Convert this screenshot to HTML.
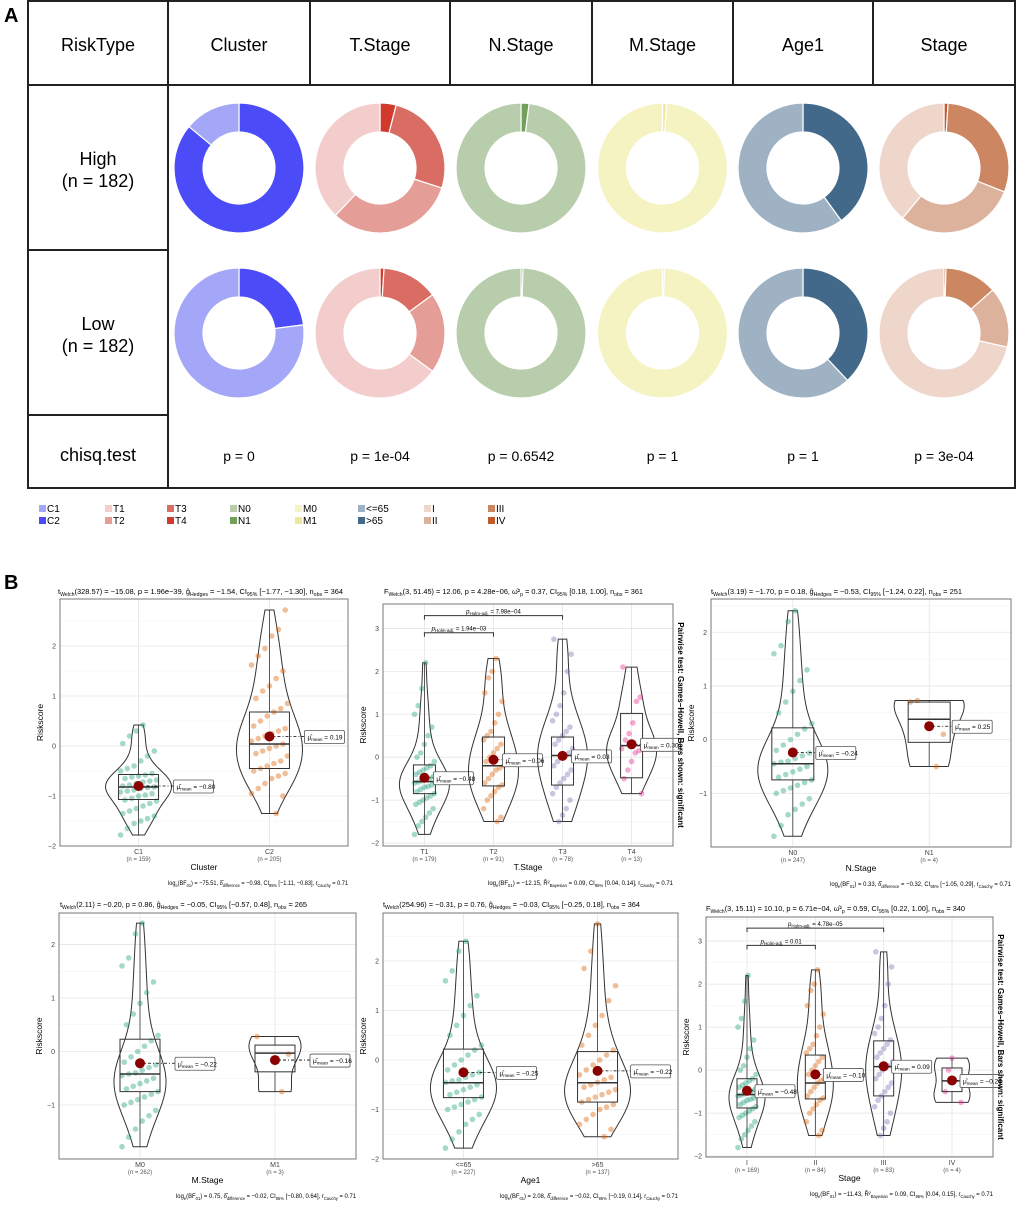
<!DOCTYPE html>
<html><head><meta charset="utf-8">
<style>
body{margin:0;background:#fff;font-family:"Liberation Sans",Arial,sans-serif;}
svg{display:block}
</style></head>
<body>
<svg id="fig" width="1020" height="1205" viewBox="0 0 1020 1205" xmlns="http://www.w3.org/2000/svg" font-family="Liberation Sans, Arial, sans-serif">
<text x="4" y="22" font-size="20" font-weight="bold">A</text>
<text x="4" y="589" font-size="20" font-weight="bold">B</text>
<g id="tbl"></g>
<g id="donuts"></g>
<g id="legend"></g>
<g id="violins"></g>
</svg>
<script>
const NS="http://www.w3.org/2000/svg";
function mk(tag,attrs,parent,txt){const e=document.createElementNS(NS,tag);for(const k in attrs)e.setAttribute(k,attrs[k]);if(txt!==undefined)e.textContent=txt;parent.appendChild(e);return e;}

// ===== Part A data =====
const columns=["Cluster","T.Stage","N.Stage","M.Stage","Age1","Stage"];
const pvalues=["p = 0","p = 1e-04","p = 0.6542","p = 1","p = 1","p = 3e-04"];
// slices listed clockwise from 12 o'clock
const sliceLevels=[["C2","C1"],["T4","T3","T2","T1"],["N1","N0"],["M1","M0"],[">65","<=65"],["IV","III","II","I"]];
const highFractions=[[0.86,0.14],[0.04,0.26,0.32,0.38],[0.02,0.98],[0.01,0.99],[0.40,0.60],[0.01,0.30,0.30,0.39]];
const lowFractions=[[0.23,0.77],[0.01,0.14,0.20,0.65],[0.005,0.995],[0.005,0.995],[0.38,0.62],[0.005,0.13,0.15,0.715]];
const levelColors={"C1":"#a4a6f7","C2":"#4b4cf7","T1":"#f2cdcc","T2":"#e59d97","T3":"#da6d63","T4":"#cf3a2d","N0":"#b7cdab","N1":"#71a05a","M0":"#f6f3c3","M1":"#efe79c","<=65":"#9eb2c4","\u003e65":"#42688a","I":"#efd6cb","II":"#ddb29d","III":"#cc8662","IV":"#c25b2c"};
const legendCol=[["C1","C2"],["T1","T2"],["T3","T4"],["N0","N1"],["M0","M1"],["<=65",">65"],["I","II"],["III","IV"]];

const tbl=document.getElementById('tbl');
const colX=[168,310,450,592,733,873,1015];
mk('rect',{x:28,y:1,width:987,height:487,fill:'none',stroke:'#222','stroke-width':2},tbl);
mk('line',{x1:28,y1:85,x2:1015,y2:85,stroke:'#222','stroke-width':2},tbl);
mk('line',{x1:168,y1:1,x2:168,y2:488,stroke:'#222','stroke-width':2},tbl);
for(let i=1;i<6;i++){mk('line',{x1:colX[i],y1:1,x2:colX[i],y2:85,stroke:'#222','stroke-width':2},tbl);}
mk('line',{x1:28,y1:250,x2:168,y2:250,stroke:'#222','stroke-width':2},tbl);
mk('line',{x1:28,y1:415,x2:168,y2:415,stroke:'#222','stroke-width':2},tbl);
let t=mk('text',{x:98,y:51,'font-size':18,'text-anchor':'middle'},tbl,'RiskType');
columns.forEach((c,i)=>{const cx=(colX[i]+colX[i+1])/2;
 const h=mk('text',{x:cx,y:51,'font-size':18,'text-anchor':'middle'},tbl,c);
 
 const p=mk('text',{x:cx,y:461,'font-size':14,'text-anchor':'middle'},tbl,pvalues[i]);
 });
[['High',165],['Low',330]].forEach(([n,y])=>{
 const a=mk('text',{x:98,y:y,'font-size':18,'text-anchor':'middle'},tbl,n);
 const b=mk('text',{x:98,y:y+22,'font-size':18,'text-anchor':'middle'},tbl,'(n = 182)');});
t=mk('text',{x:98,y:461,'font-size':18,'text-anchor':'middle'},tbl,'chisq.test');

const don=document.getElementById('donuts');
function arcPath(cx,cy,R,r,a0,a1){
 const large=(a1-a0)>Math.PI?1:0;
 const p=(rad,a)=>[cx+rad*Math.sin(a),cy-rad*Math.cos(a)];
 const [x0,y0]=p(R,a0),[x1,y1]=p(R,a1),[x2,y2]=p(r,a1),[x3,y3]=p(r,a0);
 return `M${x0},${y0}A${R},${R} 0 ${large} 1 ${x1},${y1}L${x2},${y2}A${r},${r} 0 ${large} 0 ${x3},${y3}Z`;}
[[highFractions,168],[lowFractions,333]].forEach(([fr,cy])=>{
 columns.forEach((c,i)=>{const cx=(colX[i]+colX[i+1])/2;let a=0;
  fr[i].forEach((v,j)=>{const a1=a+v*2*Math.PI;
   const s=mk('path',{d:arcPath(cx,cy,65,36,a,a1),fill:levelColors[sliceLevels[i][j]],stroke:'#fff','stroke-width':1.2},don);
   a=a1;});});});

const leg=document.getElementById('legend');
const legX=[39,105,167,230,295,358,424,488];
legendCol.forEach((col,i)=>col.forEach((lv,j)=>{const y=505+j*12;
 const r=mk('rect',{x:legX[i],y:y,width:7,height:7,fill:levelColors[lv]},leg);
 const tx=mk('text',{x:legX[i]+8,y:y+7,'font-size':10},leg,lv);}));

// ===== Part B data =====
const p1Cats=["C1","C2"];const p1N=[159,205];
const p1Pts=[[-1.78,-1.65,-1.55,-1.5,-1.45,-1.4,-1.35,-1.3,-1.25,-1.2,-1.15,-1.1,-1.08,-1.05,-1.0,-0.98,-0.95,-0.92,-0.9,-0.88,-0.85,-0.83,-0.82,-0.8,-0.78,-0.75,-0.72,-0.7,-0.68,-0.65,-0.62,-0.6,-0.58,-0.55,-0.5,-0.45,-0.4,-0.3,-0.2,-0.1,0.05,0.2,0.3,0.42],
 [-1.35,-1.0,-0.95,-0.85,-0.75,-0.65,-0.6,-0.55,-0.5,-0.45,-0.4,-0.35,-0.3,-0.2,-0.15,-0.1,-0.05,0.0,0.04,0.1,0.15,0.2,0.25,0.3,0.35,0.4,0.5,0.6,0.68,0.75,0.85,0.95,1.1,1.2,1.35,1.5,1.62,1.8,1.95,2.2,2.33,2.72]];
const p1Q1=[-1.07,-0.45],p1Med=[-0.82,0.04],p1Q3=[-0.57,0.68],p1Mean=[-0.80,0.19];

const p2Cats=["T1","T2","T3","T4"];const p2N=[179,91,78,13];
const p2Pts=[[-1.8,-1.6,-1.5,-1.4,-1.3,-1.2,-1.1,-1.05,-1.0,-0.95,-0.9,-0.85,-0.8,-0.75,-0.7,-0.68,-0.65,-0.6,-0.58,-0.55,-0.52,-0.5,-0.45,-0.4,-0.35,-0.3,-0.25,-0.2,-0.1,0.0,0.1,0.3,0.5,0.7,1.0,1.2,1.6,2.2],
 [-1.5,-1.4,-1.2,-1.0,-0.9,-0.8,-0.7,-0.65,-0.6,-0.5,-0.4,-0.3,-0.25,-0.2,-0.1,0.0,0.1,0.2,0.3,0.4,0.5,0.6,0.8,1.0,1.3,1.5,1.85,2.0,2.3],
 [-1.5,-1.35,-1.2,-1.0,-0.85,-0.7,-0.6,-0.5,-0.4,-0.3,-0.2,-0.1,0.0,0.05,0.1,0.2,0.3,0.4,0.5,0.6,0.7,0.85,1.0,1.2,1.5,2.0,2.4,2.75],
 [-0.85,-0.5,-0.3,-0.1,0.1,0.15,0.2,0.4,0.55,0.8,1.3,1.4,2.1]];
const p2Q1=[-0.85,-0.67,-0.65,-0.48],p2Med=[-0.57,-0.2,0.04,0.27],p2Q3=[-0.18,0.47,0.47,1.02],p2Mean=[-0.48,-0.06,0.03,0.30];

const p3Cats=["N0","N1"];const p3N=[247,4];
const p3Pts=[[-1.8,-1.6,-1.4,-1.3,-1.2,-1.1,-1.0,-0.95,-0.9,-0.85,-0.8,-0.75,-0.7,-0.65,-0.6,-0.55,-0.5,-0.45,-0.42,-0.4,-0.35,-0.3,-0.25,-0.2,-0.1,0.0,0.1,0.2,0.3,0.5,0.7,0.9,1.1,1.3,1.6,1.75,2.2,2.4],
 [-0.5,0.1,0.7,0.73]];
const p3Q1=[-0.75,-0.05],p3Med=[-0.45,0.38],p3Q3=[0.22,0.7],p3Mean=[-0.24,0.25];

const p4Cats=["M0","M1"];const p4N=[262,3];
const p4Pts=[[-1.78,-1.6,-1.45,-1.3,-1.2,-1.1,-1.0,-0.95,-0.9,-0.85,-0.8,-0.75,-0.7,-0.65,-0.6,-0.55,-0.5,-0.45,-0.42,-0.4,-0.35,-0.3,-0.25,-0.2,-0.1,0.0,0.1,0.2,0.3,0.5,0.7,0.9,1.1,1.3,1.6,1.75,2.2,2.4],
 [-0.75,-0.05,0.28]];
const p4Q1=[-0.75,-0.38],p4Med=[-0.42,-0.03],p4Q3=[0.23,0.12],p4Mean=[-0.22,-0.16];

const p5Cats=["<=65",">65"];const p5N=[227,137];
const p5Pts=[[-1.78,-1.6,-1.45,-1.3,-1.2,-1.1,-1.0,-0.95,-0.9,-0.85,-0.8,-0.75,-0.7,-0.65,-0.6,-0.55,-0.5,-0.45,-0.42,-0.4,-0.35,-0.3,-0.25,-0.2,-0.1,0.0,0.1,0.2,0.3,0.5,0.7,0.9,1.1,1.3,1.6,1.8,2.2,2.4],
 [-1.55,-1.4,-1.3,-1.2,-1.1,-1.0,-0.95,-0.9,-0.85,-0.8,-0.75,-0.7,-0.65,-0.6,-0.55,-0.5,-0.45,-0.4,-0.35,-0.3,-0.2,-0.1,0.0,0.1,0.2,0.3,0.5,0.7,0.9,1.2,1.5,1.85,2.2,2.75]];
const p5Q1=[-0.76,-0.85],p5Med=[-0.46,-0.46],p5Q3=[0.22,0.17],p5Mean=[-0.25,-0.22];

const p6Cats=["I","II","III","IV"];const p6N=[169,84,83,4];
const p6Pts=[[-1.8,-1.6,-1.5,-1.4,-1.3,-1.2,-1.1,-1.05,-1.0,-0.95,-0.9,-0.85,-0.8,-0.75,-0.7,-0.68,-0.65,-0.6,-0.58,-0.55,-0.52,-0.5,-0.45,-0.4,-0.35,-0.3,-0.25,-0.2,-0.1,0.0,0.1,0.3,0.5,0.7,1.0,1.2,1.6,2.2],
 [-1.52,-1.4,-1.2,-1.0,-0.9,-0.8,-0.7,-0.65,-0.6,-0.5,-0.4,-0.3,-0.25,-0.2,-0.1,0.0,0.1,0.2,0.3,0.4,0.5,0.6,0.8,1.0,1.3,1.5,1.85,2.0,2.33],
 [-1.52,-1.35,-1.2,-1.0,-0.85,-0.7,-0.6,-0.5,-0.4,-0.3,-0.2,-0.1,0.0,0.05,0.1,0.2,0.3,0.4,0.5,0.6,0.7,0.85,1.0,1.2,1.5,2.0,2.4,2.75],
 [-0.75,-0.5,0.0,0.28]];
const p6Q1=[-0.88,-0.67,-0.6,-0.5],p6Med=[-0.57,-0.3,0.08,-0.25],p6Q3=[-0.2,0.35,0.68,0.05],p6Mean=[-0.48,-0.10,0.09,-0.24];

const ptColors=["#1b9e77","#d95f02","#7570b3","#e7298a"];

const panels=[
 {id:'cluster',x0:60,x1:348,y0:599,y1:846,lo:-2.0,hi:2.94,ticks:[-2,-1,0,1,2],cats:p1Cats,n:p1N,pts:p1Pts,q1:p1Q1,med:p1Med,q3:p1Q3,mean:p1Mean,vw:33,bw:20,lo2:35,xt:'Cluster',row:0,
  title:'t<sub>Welch</sub>(328.57) = −15.08, p = 1.96e−39, ĝ<sub>Hedges</sub> = −1.54, CI<sub>95%</sub> [−1.77, −1.30], n<sub>obs</sub> = 364',tx0:58,tx1:343,
  cap:'log<sub>e</sub>(BF<sub>01</sub>) = −75.51, δ̂<sub>difference</sub> = −0.98, CI<sub>95%</sub> [−1.11, −0.83], r<sub>Cauchy</sub> = 0.71',cx0:168,cx1:348},
 {id:'tstage',x0:383,x1:673,y0:604,y1:846,lo:-2.07,hi:3.57,ticks:[-2,-1,0,1,2,3],cats:p2Cats,n:p2N,pts:p2Pts,q1:p2Q1,med:p2Med,q3:p2Q3,mean:p2Mean,vw:25,bw:11,lo2:9,xt:'T.Stage',row:0,side:true,
  brackets:[[0,1,2.9,'1.94e−03'],[0,2,3.3,'7.98e−04']],
  title:'F<sub>Welch</sub>(3, 51.45) = 12.06, p = 4.28e−06, ω̂²<sub>p</sub> = 0.37, CI<sub>95%</sub> [0.18, 1.00], n<sub>obs</sub> = 361',tx0:384,tx1:643,
  cap:'log<sub>e</sub>(BF<sub>01</sub>) = −12.15, R̂²<sub>Bayesian</sub> = 0.09, CI<sub>95%</sub> [0.04, 0.14], r<sub>Cauchy</sub> = 0.71',cx0:488,cx1:673},
 {id:'nstage',x0:711,x1:1011,y0:599,y1:847,lo:-2.0,hi:2.62,ticks:[-1,0,1,2],cats:p3Cats,n:p3N,pts:p3Pts,q1:p3Q1,med:p3Med,q3:p3Q3,mean:p3Mean,vw:35,bw:21,lo2:23,xt:'N.Stage',row:0,
  title:'t<sub>Welch</sub>(3.19) = −1.70, p = 0.18, ĝ<sub>Hedges</sub> = −0.53, CI<sub>95%</sub> [−1.24, 0.22], n<sub>obs</sub> = 251',tx0:711,tx1:962,
  cap:'log<sub>e</sub>(BF<sub>01</sub>) = 0.33, δ̂<sub>difference</sub> = −0.32, CI<sub>95%</sub> [−1.05, 0.29], r<sub>Cauchy</sub> = 0.71',cx0:830,cx1:1011},
 {id:'mstage',x0:59,x1:356,y0:913,y1:1159,lo:-2.01,hi:2.59,ticks:[-1,0,1,2],cats:p4Cats,n:p4N,pts:p4Pts,q1:p4Q1,med:p4Med,q3:p4Q3,mean:p4Mean,vw:26,bw:20,lo2:35,xt:'M.Stage',row:1,
  title:'t<sub>Welch</sub>(2.11) = −0.20, p = 0.86, ĝ<sub>Hedges</sub> = −0.05, CI<sub>95%</sub> [−0.57, 0.48], n<sub>obs</sub> = 265',tx0:60,tx1:307,
  cap:'log<sub>e</sub>(BF<sub>01</sub>) = 0.75, δ̂<sub>difference</sub> = −0.02, CI<sub>95%</sub> [−0.80, 0.64], r<sub>Cauchy</sub> = 0.71',cx0:176,cx1:356},
 {id:'age1',x0:383,x1:678,y0:913,y1:1159,lo:-2.0,hi:2.97,ticks:[-2,-1,0,1,2],cats:p5Cats,n:p5N,pts:p5Pts,q1:p5Q1,med:p5Med,q3:p5Q3,mean:p5Mean,vw:33,bw:20,lo2:33,xt:'Age1',row:1,
  title:'t<sub>Welch</sub>(254.96) = −0.31, p = 0.76, ĝ<sub>Hedges</sub> = −0.03, CI<sub>95%</sub> [−0.25, 0.18], n<sub>obs</sub> = 364',tx0:383,tx1:640,
  cap:'log<sub>e</sub>(BF<sub>01</sub>) = 2.08, δ̂<sub>difference</sub> = −0.02, CI<sub>95%</sub> [−0.19, 0.14], r<sub>Cauchy</sub> = 0.71',cx0:500,cx1:678},
 {id:'stage',x0:706,x1:993,y0:917,y1:1157,lo:-2.02,hi:3.56,ticks:[-2,-1,0,1,2,3],cats:p6Cats,n:p6N,pts:p6Pts,q1:p6Q1,med:p6Med,q3:p6Q3,mean:p6Mean,vw:18,bw:10,lo2:8,xt:'Stage',row:1,side:true,
  brackets:[[0,1,2.9,'0.01'],[0,2,3.3,'4.78e−05']],
  title:'F<sub>Welch</sub>(3, 15.11) = 10.10, p = 6.71e−04, ω̂²<sub>p</sub> = 0.59, CI<sub>95%</sub> [0.22, 1.00], n<sub>obs</sub> = 340',tx0:706,tx1:965,
  cap:'log<sub>e</sub>(BF<sub>01</sub>) = −11.43, R̂²<sub>Bayesian</sub> = 0.09, CI<sub>95%</sub> [0.04, 0.15], r<sub>Cauchy</sub> = 0.71',cx0:810,cx1:993}
];

function richText(parent,x,y,x1,str,size){
 const te=mk('text',{x:x,y:y,'font-size':size,textLength:x1-x,lengthAdjust:'spacingAndGlyphs'},parent);
 str.split(/(<sub>.*?<\/sub>)/).forEach(seg=>{if(!seg)return;
  const m=seg.match(/<sub>(.*?)<\/sub>/);
  if(m){mk('tspan',{'font-size':size*0.7,dy:2},te,m[1]);mk('tspan',{dy:-2},te,'\u200b');}
  else mk('tspan',{},te,seg);});
 return te;}

const V=document.getElementById('violins');
panels.forEach(P=>{
 const g=mk('g',{},V);
 const k=P.cats.length;
 const xs=i=>P.x0+(i+0.6)/(k+0.2)*(P.x1-P.x0);
 const ys=v=>P.y1-(v-P.lo)/(P.hi-P.lo)*(P.y1-P.y0);
 P.ticks.forEach(tv=>{mk('line',{x1:P.x0,x2:P.x1,y1:ys(tv),y2:ys(tv),stroke:'#e6e6e6','stroke-width':0.8},g);
  if(tv+0.5<P.hi)mk('line',{x1:P.x0,x2:P.x1,y1:ys(tv+0.5),y2:ys(tv+0.5),stroke:'#f2f2f2','stroke-width':0.5},g);
  const tl=mk('text',{x:P.x0-4,y:ys(tv)+2.5,'font-size':7,'text-anchor':'end',fill:'#444'},g,tv===0?'0':(tv<0?'−'+(-tv):''+tv));
  });
 P.cats.forEach((c,i)=>mk('line',{x1:xs(i),x2:xs(i),y1:P.y0,y2:P.y1,stroke:'#e6e6e6','stroke-width':0.8},g));
 P.cats.forEach((c,i)=>{
  const pts=P.pts[i];const mn=Math.min(...pts),mx=Math.max(...pts);
  const nn=pts.length;const mu=pts.reduce((a,b)=>a+b,0)/nn;const sd=Math.sqrt(pts.reduce((a,b)=>a+(b-mu)*(b-mu),0)/nn);
  const bwid=Math.max(0.9*sd*Math.pow(nn,-0.2),0.15);
  const steps=60,dens=[];for(let s=0;s<=steps;s++){const v=mn+(mx-mn)*s/steps;let d=0;pts.forEach(p=>{const z=(v-p)/bwid;d+=Math.exp(-z*z/2);});dens.push([v,d]);}
  const dmax=Math.max(...dens.map(d=>d[1]));const cx=xs(i);
  let d='M'+dens.map(([v,dd])=>`${cx+dd/dmax*P.vw},${ys(v)}`).join('L');
  d+='L'+dens.slice().reverse().map(([v,dd])=>`${cx-dd/dmax*P.vw},${ys(v)}`).join('L')+'Z';
  const vp=mk('path',{d:d,fill:'none',stroke:'#333','stroke-width':1},g);
  pts.forEach((p,j)=>{const jit=((j*37+i*11)%17-8)/8*P.bw*0.9;
   const pt=mk('circle',{cx:cx+jit,cy:ys(p),r:2.8,fill:ptColors[i],'fill-opacity':0.4},g);});
  const bx=mk('rect',{x:cx-P.bw,y:ys(P.q3[i]),width:2*P.bw,height:ys(P.q1[i])-ys(P.q3[i]),fill:'none',stroke:'#333','stroke-width':1},g);
  
  mk('line',{x1:cx,x2:cx,y1:ys(mx),y2:ys(P.q3[i]),stroke:'#333','stroke-width':0.8},g);
  mk('line',{x1:cx,x2:cx,y1:ys(P.q1[i]),y2:ys(mn),stroke:'#333','stroke-width':0.8},g);
  mk('line',{x1:cx-P.bw,x2:cx+P.bw,y1:ys(P.med[i]),y2:ys(P.med[i]),stroke:'#333','stroke-width':1.5},g);
  const lx=cx+P.lo2;
  mk('line',{x1:cx,x2:lx,y1:ys(P.mean[i]),y2:ys(P.mean[i]),stroke:'#000','stroke-width':0.8,'stroke-dasharray':'3,2,1,2'},g);
  const md=mk('circle',{cx:cx,cy:ys(P.mean[i]),r:5,fill:'#8b0000'},g);
  const lb=mk('rect',{x:lx,y:ys(P.mean[i])-6,width:40,height:13,fill:'#fff',stroke:'#555','stroke-width':0.8,rx:1.5},g);
  
  const mt=mk('text',{x:lx+3,y:ys(P.mean[i])+3,'font-size':6.5},g);
  mk('tspan',{},mt,'μ̂');mk('tspan',{'font-size':4.5,dy:1.5},mt,'mean');mk('tspan',{dy:-1.5},mt,' = '+(P.mean[i]<0?'−'+(-P.mean[i]).toFixed(2):P.mean[i].toFixed(2)));
  const xl=mk('text',{x:cx,y:P.y1+8,'font-size':7,'text-anchor':'middle',fill:'#444'},g,c);
  const nl=mk('text',{x:cx,y:P.y1+15,'font-size':6,'text-anchor':'middle',fill:'#555'},g,'(n = '+P.n[i]+')');
 });
 (P.brackets||[]).forEach(([a,b,yv,lab])=>{const y=ys(yv);
  mk('path',{d:`M${xs(a)},${y+4}V${y}H${xs(b)}V${y+4}`,fill:'none',stroke:'#333','stroke-width':1},g);
  const bt=mk('text',{x:(xs(a)+xs(b))/2,y:y-2,'font-size':6,'text-anchor':'middle'},g);
  mk('tspan',{'font-style':'italic'},bt,'p');mk('tspan',{'font-size':4.5,dy:1.5},bt,'Holm-adj.');mk('tspan',{dy:-1.5},bt,' = '+lab);});
 const fr=mk('rect',{x:P.x0,y:P.y0,width:P.x1-P.x0,height:P.y1-P.y0,fill:'none',stroke:'#777','stroke-width':1},g);
 
 const yt=mk('text',{x:0,y:0,'font-size':8.5,'text-anchor':'middle',transform:`translate(${P.x0-17},${(P.y0+P.y1)/2}) rotate(-90)`},g,'Riskscore');
 
 const xt=mk('text',{x:(P.x0+P.x1)/2,y:P.y1+24,'font-size':8.5,'text-anchor':'middle'},g,P.xt);
 
 const tt=richText(g,P.tx0,P.y0-(P.id==='tstage'?10:(P.row===0?5:6)),P.tx1,P.title,7.5);
 
 const ct=richText(g,P.cx0,P.y1+39,P.cx1,P.cap,6.5);
 
 if(P.side){const st=mk('text',{x:0,y:0,'font-size':8,'font-weight':'bold','text-anchor':'middle',transform:`translate(${P.x1+5},${(P.y0+P.y1)/2}) rotate(90)`},g,'Pairwise test: Games−Howell, Bars shown: significant');
  }
});
</script>
</body></html>
